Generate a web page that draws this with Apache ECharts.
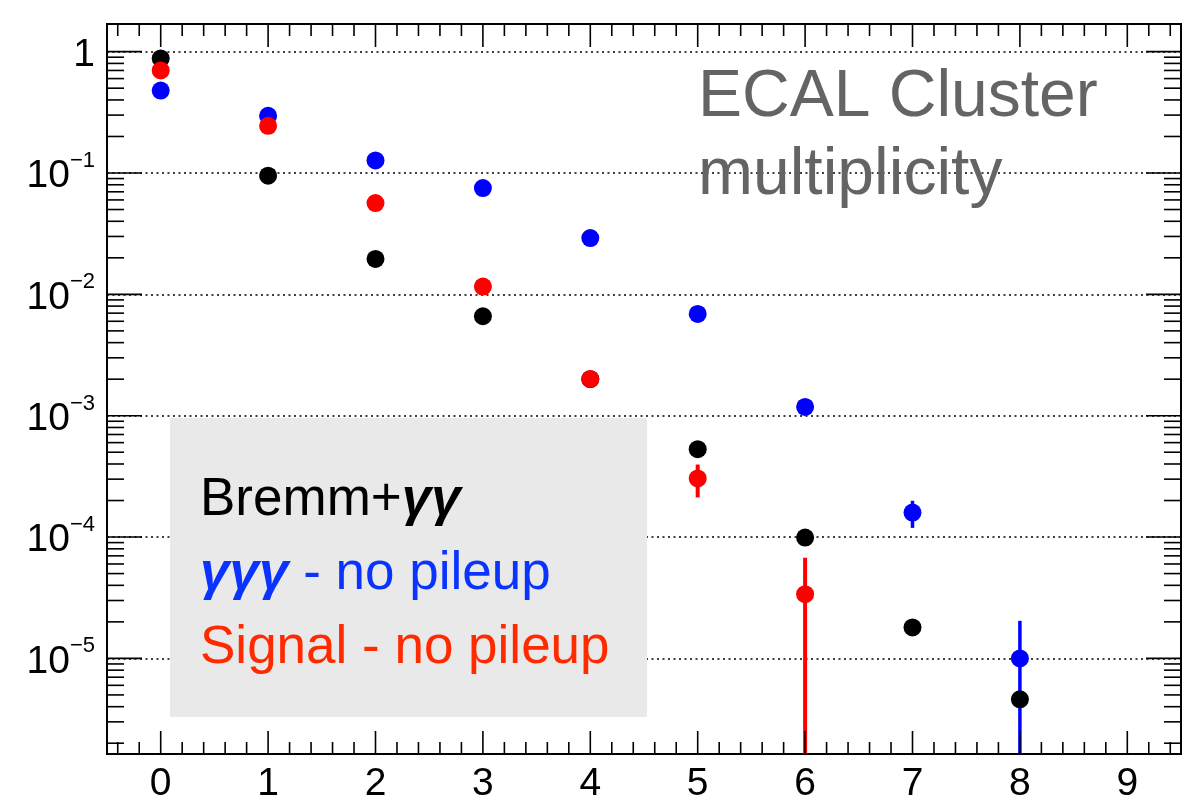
<!DOCTYPE html>
<html>
<head>
<meta charset="utf-8">
<script src="https://cdn.jsdelivr.net/npm/echarts@6/dist/echarts.min.js"></script>
<style>
  html, body { margin: 0; padding: 0; background: #ffffff; }
  #chart { width: 1184px; height: 804px; }
</style>
</head>
<body>
<div id="chart"></div>
<script>
// ECAL cluster multiplicity, normalised per event (log scale)
const multiplicity = [0, 1, 2, 3, 4, 5, 6, 7, 8];

const bremmGG        = [0.88, 0.095, 0.0196, 0.0066, 0.0020, 5.3e-4, 9.9e-5, 1.8e-5, 4.6e-6];
const bremmGGErr     = [0, 0, 0, 0, 0, 0, 0, 0, 0];

const gggNoPileup    = [0.478, 0.296, 0.127, 0.0751, 0.0291, 0.0069, 1.18e-3, 1.59e-4, 1.0e-5];
const gggNoPileupErr = [0.012, 0, 0, 0, 0, 0, 0, 0.4e-4, 1.04e-5];

const signalNoPileup    = [0.70, 0.245, 0.0565, 0.0116, 0.00201, 3.04e-4, 3.38e-5, null, null];
const signalNoPileupErr = [0, 0, 0, 0, 0, 0.92e-4, 3.38e-5, null, null];

const xRange = [-0.5, 9.5];
const yRange = [1.63e-6, 1.69];
const xLabels = ['0', '1', '2', '3', '4', '5', '6', '7', '8', '9'];
const yDecades = [1, 1e-1, 1e-2, 1e-3, 1e-4, 1e-5];

const FONT = '"Liberation Sans", Arial, Helvetica, sans-serif';

// tick positions for the frame (major + minor, all four sides)
const xMajor = xLabels.map(Number);
const xMinor = [];
for (let i = -2; i <= 47; i++) {
  const v = +(i * 0.2).toFixed(1);
  if (v > xRange[0] && v < xRange[1] && Math.abs(v - Math.round(v)) > 1e-9) xMinor.push(v);
}
const yMajor = yDecades.slice();
const yMinor = [];
for (let e = -6; e <= 0; e++) {
  for (let m = 2; m <= 9; m++) {
    const v = m * Math.pow(10, e);
    if (v > yRange[0] && v < yRange[1]) yMinor.push(v);
  }
}

function xTickSeries(values, len) {
  return {
    type: 'custom',
    silent: true,
    clip: false,
    z: 4,
    data: values.map(v => [v, yRange[0]]),
    renderItem(params, api) {
      const v = api.value(0);
      const b = api.coord([v, yRange[0]]);
      const t = api.coord([v, yRange[1]]);
      const st = { stroke: '#000', lineWidth: 1.6 };
      return {
        type: 'group',
        children: [
          { type: 'line', shape: { x1: b[0], y1: b[1], x2: b[0], y2: b[1] - len }, style: st },
          { type: 'line', shape: { x1: t[0], y1: t[1], x2: t[0], y2: t[1] + len }, style: st }
        ]
      };
    }
  };
}

function yTickSeries(values, len) {
  return {
    type: 'custom',
    silent: true,
    clip: false,
    z: 4,
    data: values.map(v => [xRange[0], v]),
    renderItem(params, api) {
      const v = api.value(1);
      const l = api.coord([xRange[0], v]);
      const r = api.coord([xRange[1], v]);
      const st = { stroke: '#000', lineWidth: 1.6 };
      return {
        type: 'group',
        children: [
          { type: 'line', shape: { x1: l[0], y1: l[1], x2: l[0] + len, y2: l[1] }, style: st },
          { type: 'line', shape: { x1: r[0], y1: r[1], x2: r[0] - len, y2: r[1] }, style: st }
        ]
      };
    }
  };
}

function errorSeries(values, errors, color, width) {
  const data = [];
  values.forEach((v, i) => {
    if (v != null && errors[i]) data.push([multiplicity[i], v, errors[i]]);
  });
  return {
    type: 'custom',
    silent: true,
    clip: true,
    data: data,
    renderItem(params, api) {
      const x = api.value(0), v = api.value(1), e = api.value(2);
      const hi = Math.min(v + e, yRange[1]);
      const lo = v - e > yRange[0] ? v - e : yRange[0];
      const p1 = api.coord([x, hi]);
      const p2 = api.coord([x, lo]);
      return {
        type: 'line',
        shape: { x1: p1[0], y1: p1[1], x2: p2[0], y2: p2[1] },
        style: { stroke: color, lineWidth: width }
      };
    }
  };
}

function pointSeries(name, values, color) {
  return {
    name: name,
    type: 'scatter',
    symbol: 'circle',
    symbolSize: 18,
    itemStyle: { color: color, opacity: 1 },
    emphasis: { disabled: true },
    data: multiplicity.map((x, i) => [x, values[i]]).filter(d => d[1] != null)
  };
}

const chart = echarts.init(document.getElementById('chart'), null, { renderer: 'canvas' });

chart.setOption({
  animation: false,
  backgroundColor: '#ffffff',
  grid: {
    left: 107, top: 24, width: 1075, height: 731,
    show: true, borderColor: '#000', borderWidth: 2, backgroundColor: 'transparent'
  },
  xAxis: {
    type: 'value',
    min: xRange[0],
    max: xRange[1],
    splitNumber: 10,
    axisLine: { show: false },
    axisTick: { show: false },
    splitLine: { show: false },
    axisLabel: {
      margin: 11,
      fontFamily: FONT,
      fontSize: 39,
      color: '#000',
      formatter: v => (Math.abs(v - Math.round(v)) < 1e-9 && xLabels.includes(String(Math.round(v)))) ? String(Math.round(v)) : ''
    }
  },
  yAxis: {
    type: 'log',
    logBase: 10,
    min: yRange[0],
    max: yRange[1],
    axisLine: { show: false },
    axisTick: { show: false },
    splitLine: {
      show: true,
      lineStyle: { color: '#000', width: 1.6, type: [2, 3.5] }
    },
    axisLabel: {
      margin: 12,
      formatter: v => {
        const l = Math.log10(v);
        const e = Math.round(l);
        if (Math.abs(l - e) > 1e-6) return '';
        if (!yDecades.some(d => Math.abs(Math.log10(d) - e) < 1e-9)) return '';
        if (e === 0) return '{b|1}';
        return '{b|10}{s|\u2212' + (-e) + '}';
      },
      rich: {
        b: { fontFamily: FONT, fontSize: 39, color: '#000', padding: [7, 0, 0, 0] },
        s: { fontFamily: FONT, fontSize: 22, color: '#000', verticalAlign: 'top' }
      }
    }
  },
  series: [
    xTickSeries(xMajor, 23),
    xTickSeries(xMinor, 12),
    yTickSeries(yMajor, 35),
    yTickSeries(yMinor, 17),
    errorSeries(bremmGG, bremmGGErr, '#000000', 3.5),
    pointSeries('Bremm+γγ', bremmGG, '#000000'),
    errorSeries(gggNoPileup, gggNoPileupErr, '#0000ff', 3.5),
    pointSeries('γγγ - no pileup', gggNoPileup, '#0000ff'),
    errorSeries(signalNoPileup, signalNoPileupErr, '#ff0000', 4),
    pointSeries('Signal - no pileup', signalNoPileup, '#ff0000')
  ],
  graphic: [
    {
      type: 'text',
      left: 698,
      top: 59,
      z: 20,
      style: {
        text: 'ECAL Cluster\nmultiplicity',
        font: '66px ' + FONT,
        fill: '#646464',
        lineHeight: 78
      }
    },
    {
      type: 'rect',
      z: 20,
      shape: { x: 170, y: 418, width: 477, height: 299 },
      style: { fill: '#e9e9e9' }
    },
    {
      type: 'text',
      x: 200, y: 500, z: 21,
      style: {
        text: '{n|Bremm+}{g|γγ}',
        verticalAlign: 'middle',
        rich: {
          n: { fontFamily: FONT, fontSize: 53, fill: '#000' },
          g: { fontFamily: FONT, fontSize: 53, fontWeight: 'bold', fontStyle: 'italic', fill: '#000' }
        }
      }
    },
    {
      type: 'text',
      x: 200, y: 574, z: 21,
      style: {
        text: '{g|γγγ}{n| - no pileup}',
        verticalAlign: 'middle',
        rich: {
          n: { fontFamily: FONT, fontSize: 53, fill: '#0a33ff' },
          g: { fontFamily: FONT, fontSize: 53, fontWeight: 'bold', fontStyle: 'italic', fill: '#0a33ff' }
        }
      }
    },
    {
      type: 'text',
      x: 200, y: 648, z: 21,
      style: {
        text: 'Signal - no pileup',
        verticalAlign: 'middle',
        font: '53px ' + FONT,
        fill: '#ff2a00'
      }
    }
  ]
});
</script>
</body>
</html>
